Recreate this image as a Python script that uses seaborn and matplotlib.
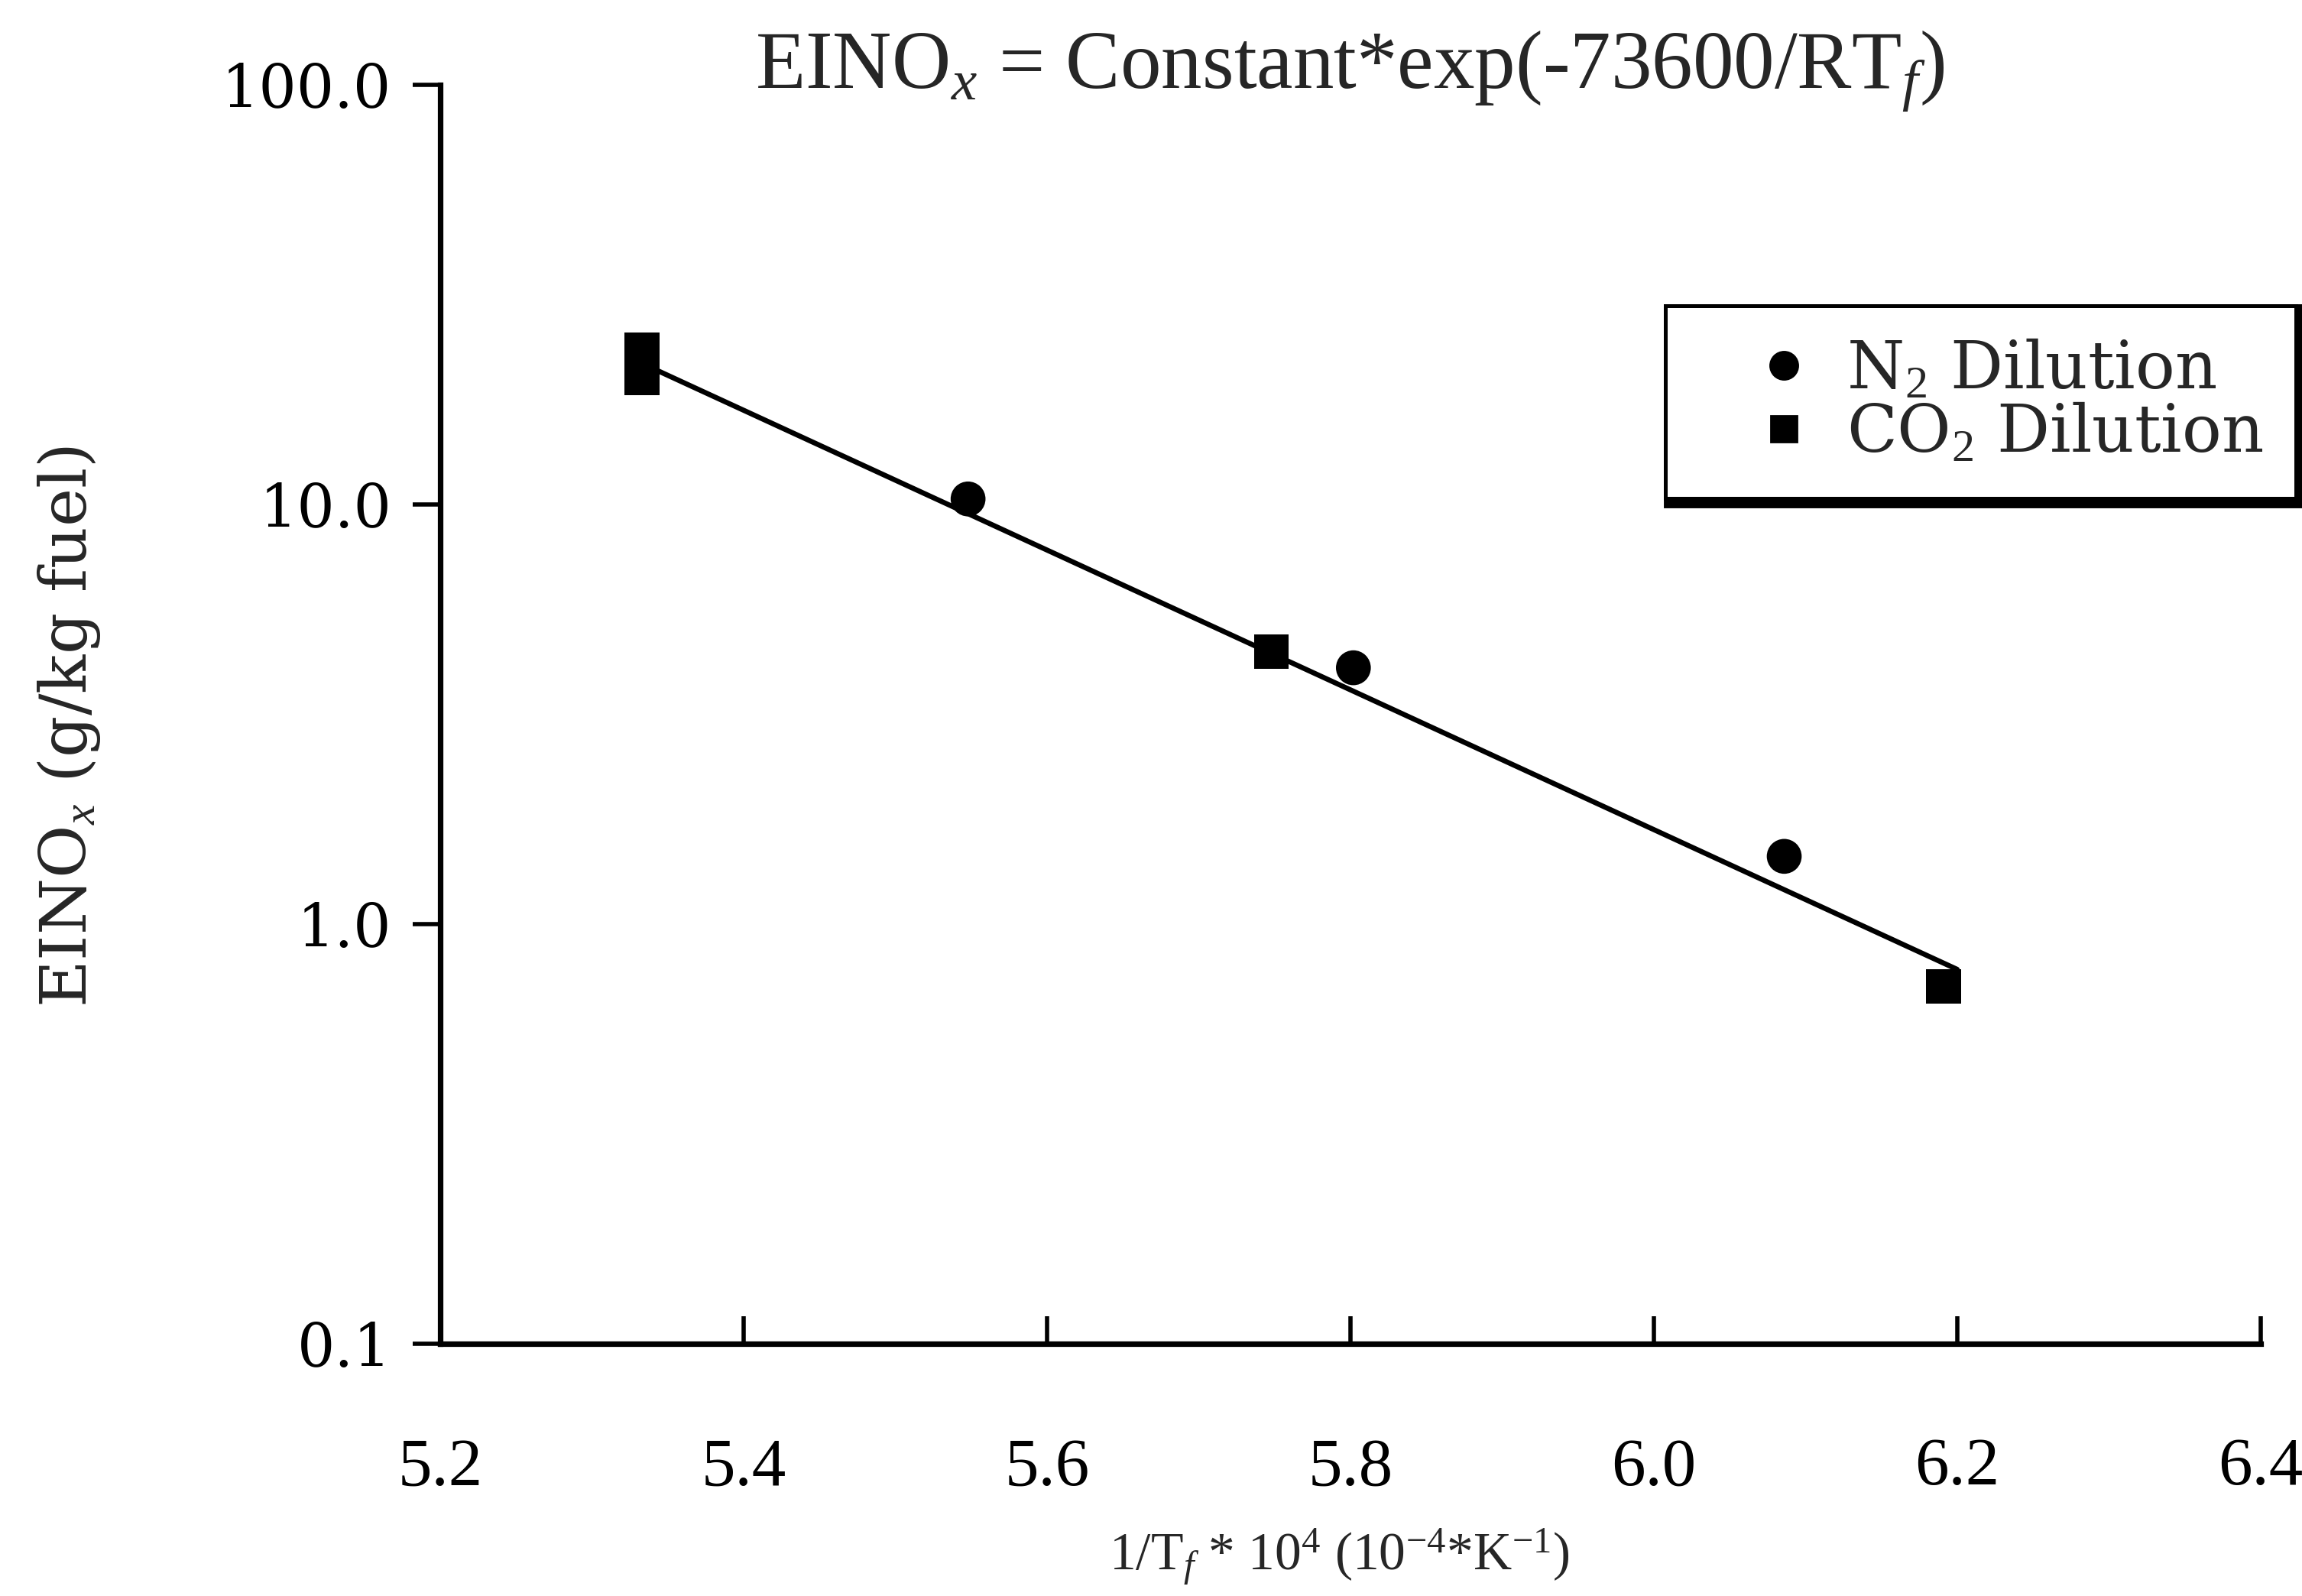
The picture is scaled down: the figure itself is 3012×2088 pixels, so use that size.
import numpy as np
import pandas as pd
import seaborn as sns
import matplotlib.pyplot as plt
from matplotlib.lines import Line2D

# Emission index of NOx versus inverse flame temperature
inv_temp_n2 = [5.548, 5.802, 6.086]
einox_n2 = [10.3, 4.08, 1.45]
inv_temp_co2 = [5.333, 5.333, 5.748, 6.191]
einox_co2 = [23.3, 20.0, 4.46, 0.71]

# Arrhenius fit line end points
fit_inv_temp = [5.335, 6.200]
fit_einox = [21.5, 0.78]

series_names = ["N2", "CO2"]
series_labels = ["N$_2$ Dilution", "CO$_2$ Dilution"]
x_ticks = [5.2, 5.4, 5.6, 5.8, 6.0, 6.2, 6.4]
x_tick_labels = ["5.2", "5.4", "5.6", "5.8", "6.0", "6.2", "6.4"]
y_ticks = [0.1, 1.0, 10.0, 100.0]
y_tick_labels = ["0.1", "1.0", "10.0", "100.0"]

df = pd.DataFrame({
    "inv_temp": inv_temp_n2 + inv_temp_co2,
    "einox": einox_n2 + einox_co2,
    "series": [series_names[0]] * len(inv_temp_n2) + [series_names[1]] * len(inv_temp_co2),
})

sns.set_theme(style="white")
plt.rcParams["font.family"] = ["Liberation Serif", "DejaVu Serif"]
plt.rcParams["mathtext.fontset"] = "custom"
plt.rcParams["mathtext.rm"] = "Liberation Serif"
plt.rcParams["mathtext.it"] = "Liberation Serif:italic"
plt.rcParams["mathtext.bf"] = "Liberation Serif:bold"

fig = plt.figure(figsize=(15.06, 10.44), dpi=200)
ax = fig.add_axes([0.1912, 0.158, 0.7908, 0.789])

sns.lineplot(x=fit_inv_temp, y=fit_einox, ax=ax, color="black", linewidth=2.4)
sns.scatterplot(data=df, x="inv_temp", y="einox", style="series",
                markers={"N2": "o", "CO2": "s"}, color="black", s=270,
                edgecolor="none", legend=False, ax=ax, zorder=3)

ax.set_yscale("log")
ax.set_xlim(5.2, 6.4)
ax.set_ylim(0.1, 100)

ax.set_xticks(x_ticks)
ax.set_xticklabels(x_tick_labels)
ax.set_yticks(y_ticks)
ax.set_yticklabels(y_tick_labels, family="DejaVu Serif")
ax.minorticks_off()

ax.tick_params(axis="x", direction="in", length=13, width=2.0, pad=44,
               labelsize=32, colors="black", bottom=True)
ax.tick_params(axis="y", direction="out", length=13, width=2.0, pad=10,
               labelsize=28, colors="black", left=True)

for side in ("top", "right"):
    ax.spines[side].set_visible(False)
for side in ("left", "bottom"):
    ax.spines[side].set_color("black")
    ax.spines[side].set_linewidth(2.6)

ax.set_xlabel(r"1/T$_f$ * 10$^4$ (10$^{-4}$*K$^{-1}$)", fontsize=25)
ax.xaxis.set_label_coords(0.494, -0.169)
ax.xaxis.label.set_verticalalignment("center")

ax.set_ylabel(r"EINO$_x$ (g/kg fuel)", fontsize=30.5, family="DejaVu Serif")
ax.yaxis.set_label_coords(-0.204, 0.49)
ax.yaxis.label.set_verticalalignment("center")

ax.set_title(r"EINO$_x$ = Constant*exp(-73600/RT$_f$)", fontsize=38.5,
             y=1.011, va="center", pad=0)

handles = [
    Line2D([], [], marker="o", linestyle="none", color="black", markersize=13),
    Line2D([], [], marker="s", linestyle="none", color="black", markersize=12),
]
leg = ax.legend(handles, series_labels, loc="upper left",
                bbox_to_anchor=(0.673, 0.8245), borderaxespad=0,
                prop={"family": "DejaVu Serif", "size": 31},
                frameon=True, fancybox=False,
                shadow={"color": "black", "alpha": 1, "linewidth": 5},
                handlelength=2.6, handletextpad=-0.35, borderpad=0.5,
                labelspacing=0.0)
leg.get_frame().set_edgecolor("black")
leg.get_frame().set_linewidth(1.8)

fig.savefig("out.png", dpi=200, facecolor="white")
